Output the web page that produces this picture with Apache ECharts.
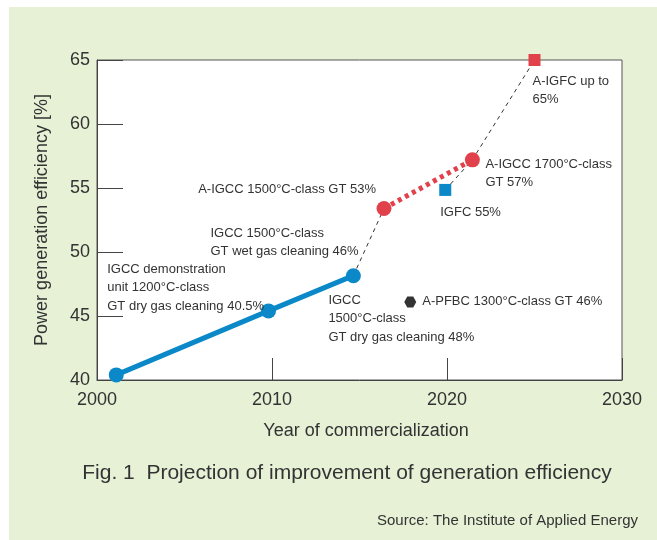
<!DOCTYPE html>
<html>
<head>
<meta charset="utf-8">
<title>Projection of improvement of generation efficiency</title>
<script src="https://cdn.jsdelivr.net/npm/echarts@6/dist/echarts.min.js"></script>
<style>
  html, body { margin: 0; padding: 0; background: #fff; }
  #main { width: 657px; height: 540px; }
</style>
</head>
<body>
<div id="main"></div>
<script>
// IGCC (solid blue line)
var igccYears = [2001.1, 2009.8, 2014.65];
var igccEff = [40.4, 45.4, 48.15];
var igccLabels = [
    'IGCC demonstration\nunit 1200°C-class\nGT dry gas cleaning 40.5%',
    'IGCC 1500°C-class\nGT wet gas cleaning 46%',
    'IGCC\n1500°C-class\nGT dry gas cleaning 48%'
];
// A-IGCC (red dotted line)
var aigccYears = [2016.4, 2021.45];
var aigccEff = [53.4, 57.2];
var aigccLabels = ['A-IGCC 1500°C-class GT 53%', 'A-IGCC 1700°C-class\nGT 57%'];
// A-IGFC, IGFC, A-PFBC
var aigfcYear = [2025.0];
var aigfcEff = [65];
var aigfcLabel = ['A-IGFC up to\n65%'];
var igfcYear = [2019.9];
var igfcEff = [54.85];
var igfcLabel = ['IGFC 55%'];
var pfbcYear = [2017.9];
var pfbcEff = [46.1];
var pfbcLabel = ['A-PFBC 1300°C-class GT 46%'];

var xTicks = [2000, 2010, 2020, 2030];
var yTicks = [40, 45, 50, 55, 60, 65];

// label placement (align, verticalAlign, offset from point centre)
var igccLabelPos = [['left', 'top', [-9, -115]], ['left', 'top', [-58, -87]], ['left', 'top', [-25, 15]]];
var aigccLabelPos = [['right', 'middle', [-8, -19]], ['left', 'top', [13, -5]]];

var blue = '#0a88c8';
var red = '#e1414a';
var txt = '#333';
var font = '"Liberation Sans", Arial, sans-serif';

function pts(xs, ys, labels, pos) {
    var out = [];
    for (var i = 0; i < xs.length; i++) {
        var item = { value: [xs[i], ys[i]] };
        if (labels) {
            var p = pos[i];
            item.label = {
                show: true,
                position: 'inside',
                align: p[0],
                verticalAlign: p[1],
                offset: p[2],
                formatter: labels[i],
                color: txt,
                opacity: 1,
                fontSize: 13,
                lineHeight: 18.5,
                fontFamily: font
            };
        }
        out.push(item);
    }
    return out;
}

var chart = echarts.init(document.getElementById('main'));
var option = {
    animation: false,
    graphic: [{
        type: 'rect',
        z: -10,
        shape: { x: 9, y: 7, width: 648, height: 533 },
        style: { fill: '#e6f1d6' }
    }],
    title: [{
        text: 'Fig. 1  Projection of improvement of generation efficiency',
        left: 342,
        textAlign: 'center',
        top: 458,
        textStyle: { color: txt, fontSize: 21, fontWeight: 'normal', fontFamily: font }
    }, {
        text: 'Source: The Institute of Applied Energy',
        right: 14,
        top: 508,
        textStyle: { color: txt, fontSize: 15, fontWeight: 'normal', fontFamily: font }
    }],
    grid: {
        left: 97, right: 35, top: 60, bottom: 160,
        show: true,
        backgroundColor: '#fff',
        borderColor: '#555',
        borderWidth: 1
    },
    xAxis: {
        type: 'value',
        min: xTicks[0], max: xTicks[xTicks.length - 1], interval: 10,
        name: 'Year of commercialization',
        nameLocation: 'middle',
        nameGap: 42,
        nameTextStyle: { color: txt, fontSize: 18, fontFamily: font, padding: [0, 0, 0, 13] },
        axisLine: { lineStyle: { color: '#444', width: 1 } },
        axisTick: { inside: true, length: 22, lineStyle: { color: '#444' } },
        axisLabel: {
            color: txt, fontSize: 18, margin: 11, fontFamily: font,
            formatter: function (v) { return String(v); }
        },
        splitLine: { show: false }
    },
    yAxis: {
        type: 'value',
        min: yTicks[0], max: yTicks[yTicks.length - 1], interval: 5,
        name: 'Power generation efficiency [%]',
        nameLocation: 'middle',
        nameGap: 46,
        nameTextStyle: { color: txt, fontSize: 18, fontFamily: font },
        axisLine: { show: true, lineStyle: { color: '#444', width: 1 } },
        axisTick: { show: true, inside: true, length: 26, lineStyle: { color: '#444' } },
        axisLabel: { color: txt, fontSize: 18, margin: 7, fontFamily: font },
        splitLine: { show: false }
    },
    series: [{
        // dashed connector IGCC 48% -> A-IGCC 53%
        type: 'line',
        z: 1,
        symbol: 'none',
        data: [[igccYears[2], igccEff[2]], [aigccYears[0], aigccEff[0]]],
        lineStyle: { color: '#333', width: 1, type: [4, 4] }
    }, {
        // dashed connector IGFC -> A-IGCC 57% -> A-IGFC
        type: 'line',
        z: 1,
        symbol: 'none',
        data: [[igfcYear[0], igfcEff[0]], [aigccYears[1], aigccEff[1]], [aigfcYear[0], aigfcEff[0]]],
        lineStyle: { color: '#333', width: 1, type: [4, 4] }
    }, {
        type: 'line',
        z: 3,
        symbol: 'circle',
        symbolSize: 15,
        itemStyle: { color: blue },
        lineStyle: { color: blue, width: 5 },
        data: pts(igccYears, igccEff, igccLabels, igccLabelPos)
    }, {
        type: 'line',
        z: 3,
        symbol: 'circle',
        symbolSize: 15,
        itemStyle: { color: red },
        lineStyle: { color: red, width: 5, type: [4, 4], cap: 'butt' },
        data: pts(aigccYears, aigccEff, aigccLabels, aigccLabelPos)
    }, {
        type: 'scatter',
        z: 3,
        symbol: 'rect',
        symbolSize: 12,
        itemStyle: { color: red, opacity: 1 },
        data: pts(aigfcYear, aigfcEff, aigfcLabel, [['left', 'top', [-2, 12]]])
    }, {
        type: 'scatter',
        z: 3,
        symbol: 'rect',
        symbolSize: 12,
        itemStyle: { color: blue, opacity: 1 },
        data: pts(igfcYear, igfcEff, igfcLabel, [['left', 'middle', [-5, 23]]])
    }, {
        type: 'scatter',
        z: 3,
        symbol: 'path://M0,5 L3,0 L9,0 L12,5 L9,10 L3,10 Z',
        symbolSize: [12, 11],
        itemStyle: { color: '#333', opacity: 1 },
        data: pts(pfbcYear, pfbcEff, pfbcLabel, [['left', 'middle', [12, 0]]])
    }]
};
chart.setOption(option);
</script>
</body>
</html>
